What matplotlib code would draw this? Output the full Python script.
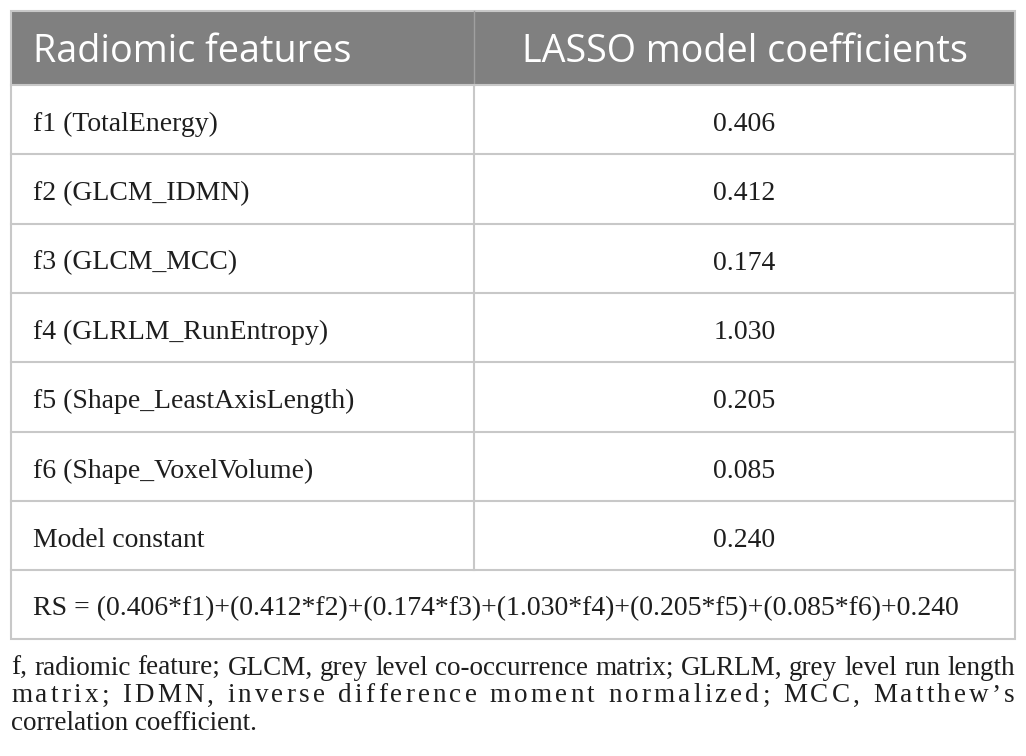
import matplotlib.pyplot as plt
from matplotlib.patches import Rectangle

# Table content
headers = ["Radiomic features", "LASSO model coefficients"]
features = ["f1 (TotalEnergy)", "f2 (GLCM_IDMN)", "f3 (GLCM_MCC)",
            "f4 (GLRLM_RunEntropy)", "f5 (Shape_LeastAxisLength)",
            "f6 (Shape_VoxelVolume)", "Model constant"]
coefs = ["0.406", "0.412", "0.174", "1.030", "0.205", "0.085", "0.240"]
footnote = [
    "f, radiomic feature; GLCM, grey level co-occurrence matrix; GLRLM, grey level run length",
    "matrix; IDMN, inverse difference moment normalized; MCC, Matthew\u2019s",
    "correlation coefficient.",
]

# Formula row built from the coefficients
formula = "RS = " + "+".join("(%s*f%d)" % (c, i + 1) for i, c in enumerate(coefs[:-1])) + "+" + coefs[-1]

W, H = 1026, 756
fig = plt.figure(figsize=(W / 100, H / 100), dpi=100)
ax = fig.add_axes([0, 0, 1, 1])
ax.set_xlim(0, W)
ax.set_ylim(H, 0)
ax.axis('off')

left, right, mid = 11, 1015, 474
top, head_h, row_h = 11, 74, 69.3
line_c = '#c8c8c8'
txt_c = '#1e1e1e'
serif = ['Liberation Serif', 'DejaVu Serif']
fs = 20

# header
ax.add_patch(Rectangle((left, top), right - left, head_h, facecolor='#808080', edgecolor='none'))
ax.text(33, top + 51, headers[0], fontsize=27.2, color='white',
        family='Open Sans', va='baseline', ha='left')
ax.text((mid + right) / 2, top + 51, headers[1], fontsize=27.2, color='white',
        family='Open Sans', va='baseline', ha='center')
ax.plot([mid, mid], [top, top + head_h], color='#a0a0a0', lw=1)

# body rows
y0 = top + head_h
n = len(features)
for i, (f, c) in enumerate(zip(features, coefs)):
    yb = y0 + i * row_h + 46
    ax.text(33, yb, f, fontsize=fs, family=serif, va='baseline', ha='left', color=txt_c)
    ax.text((mid + right) / 2, yb, c, fontsize=fs, family=serif, va='baseline', ha='center', color=txt_c)
    ax.plot([left, right], [y0 + (i + 1) * row_h] * 2, color=line_c, lw=1.5)

# formula row
yf = y0 + n * row_h
ax.text(33, yf + 45, formula, fontsize=fs, family=serif, va='baseline', ha='left', color=txt_c)
bottom = yf + row_h

# grid lines and border
ax.plot([mid, mid], [y0, yf], color=line_c, lw=1.5)
ax.plot([left, right], [y0, y0], color=line_c, lw=1.5)
ax.add_patch(Rectangle((left, top), right - left, bottom - top, facecolor='none',
                       edgecolor=line_c, lw=1.5))

# footnote: justified lines, extra room spread over the letters
fig.canvas.draw()
r = fig.canvas.get_renderer()
ffs = 19.5


def width_of(s):
    t = ax.text(0, 0, s, fontsize=ffs, family=serif)
    w = t.get_window_extent(r).width
    t.remove()
    return w


for k, line in enumerate(footnote):
    yl = 675 + k * 27.5
    if k == len(footnote) - 1:
        ax.text(left, yl, line, fontsize=ffs, family=serif, va='baseline', ha='left', color=txt_c)
        continue
    words = line.split(' ')
    if k == 0:
        # word spacing only
        widths = [width_of(w) for w in words]
        gap = (right - left - sum(widths)) / (len(words) - 1)
        x = left
        for w, wd in zip(words, widths):
            ax.text(x, yl, w, fontsize=ffs, family=serif, va='baseline', ha='left', color=txt_c)
            x += wd + gap
    else:
        # letter spacing plus word spacing
        sp = width_of('a a') - width_of('aa')
        char_w = [[width_of(ch) for ch in w] for w in words]
        natural = sum(sum(cw) for cw in char_w) + sp * (len(words) - 1)
        n_gaps = sum(len(w) - 1 for w in words) + 2 * (len(words) - 1)
        e = (right - left - natural) / n_gaps
        x = left
        for wi, (w, cw) in enumerate(zip(words, char_w)):
            for ci, (ch, wd) in enumerate(zip(w, cw)):
                ax.text(x, yl, ch, fontsize=ffs, family=serif, va='baseline', ha='left', color=txt_c)
                x += wd + (e if ci < len(w) - 1 else 0)
            x += sp + 2 * e

fig.savefig('out.png', dpi=100, facecolor='white')
